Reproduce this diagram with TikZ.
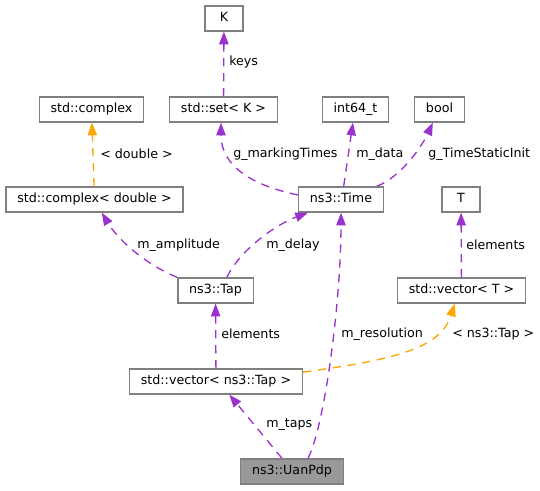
\documentclass[tikz,border=0pt]{standalone}
\usepackage{fontspec}
\setmainfont{DejaVu Sans}
\usetikzlibrary{arrows.meta}
\definecolor{morado}{HTML}{9A32CD}
\definecolor{naranja}{HTML}{FFA500}
\definecolor{gris}{HTML}{808080}
\definecolor{grisfondo}{HTML}{999999}
\begin{document}
\begin{tikzpicture}[   % opciones por defecto
      x=0.75pt,          % un pixel de la figura original
      y=-0.75pt,         % eje y hacia abajo, como en la imagen
      font=\fontsize{9.5pt}{11pt}\selectfont
    ]
    \tikzstyle{clase}=[draw=gris, line width=1pt, fill=white,
      minimum width=28.5pt, minimum height=18.75pt,
      inner xsep=8.5pt, inner ysep=0pt, text height=7pt, text depth=2pt];
    \tikzstyle{miembro}=[draw=morado, line width=1pt,
      dash pattern=on 6.2pt off 5pt,
      -{Triangle[length=9.5pt,width=7pt]}];
    \tikzstyle{plantilla}=[miembro, draw=naranja];
    \tikzstyle{etiqueta}=[anchor=west, inner sep=0pt];
    %
    \useasboundingbox (0,0) rectangle (540,491);
    %
    % clases de arriba
    \node [clase] (K)     at (224,18.5)   {K};
    \node [clase] (cplx)  at (91.5,109.5) {std::complex};
    \node [clase] (set)   at (223.5,109.5){std::set< K >};
    \node [clase] (int)   at (355.5,109.5){int64\_t};
    \node [clase] (bool)  at (439.5,109.5){bool};
    %
    % clases del medio
    \node [clase] (cplxd) at (94.5,199.5) {std::complex< double >};
    \node [clase] (time)  at (341,199.5)  {ns3::Time};
    \node [clase] (T)     at (461,199.5)  {T};
    \node [clase] (tap)   at (215.5,290.5){ns3::Tap};
    \node [clase] (vecT)  at (461.5,290.5){std::vector< T >};
    \node [clase] (vecTap) at (216,381.5) {std::vector< ns3::Tap >};
    %
    % clase principal
    \node [clase, fill=grisfondo] (uan) at (292,471.5) {ns3::UanPdp};
    %
    % conexiones rectas
    \draw[miembro] (set) -- (K);
    \draw[plantilla] (cplxd) -- (cplx);
    \draw[miembro] (vecT) -- (T);
    \draw[miembro] (vecTap) -- (tap);
    \draw[miembro] ([xshift=2pt]time.north) -- ([xshift=-1.9pt]int.south);
    \draw[miembro] ([xshift=-7.5pt]uan.north) -- ([xshift=10pt]vecTap.south);
    %
    % conexiones curvas
    \draw[miembro] ([yshift=3.4pt]time.west)
      .. controls (250,185) and (221,165) .. ([xshift=-1.9pt]set.south);
    \draw[miembro] ([xshift=-5.5pt]time.north east)
      .. controls (405,175) and (425,140) .. ([xshift=-5pt]bool.south);
    \draw[miembro] (tap.north west)
      .. controls (140,262) and (115,235) .. ([xshift=5.5pt]cplxd.south);
    \draw[miembro] ([xshift=8.5pt]tap.north)
      .. controls (240,250) and (275,225) .. ([xshift=7.5pt]time.south west);
    \draw[miembro] ([xshift=12pt]uan.north)
      .. controls (325,425) and (341,300) .. (time.south);
    \draw[plantilla] ([yshift=7pt]vecTap.east)
      .. controls (390,360) and (440,350) .. ([xshift=-5pt]vecT.south);
    %
    % etiquetas de las conexiones
    \node [etiqueta] (lkeys)   at (229,62)  {keys};
    \node [etiqueta] (ldouble) at (100,154) {< double >};
    \node [etiqueta] (lmark)   at (233,154) {g\_markingTimes};
    \node [etiqueta] (ldata)   at (356,154) {m\_data};
    \node [etiqueta] (lstatic) at (428,154) {g\_TimeStaticInit};
    \node [etiqueta] (lampl)   at (137,245) {m\_amplitude};
    \node [etiqueta] (ldelay)  at (266,245) {m\_delay};
    \node [etiqueta] (lelemT)  at (466,245) {elements};
    \node [etiqueta] (lelemTap) at (221,334) {elements};
    \node [etiqueta] (lres)    at (341,334) {m\_resolution};
    \node [etiqueta] (ltap)    at (452,334) {< ns3::Tap >};
    \node [etiqueta] (ltaps)   at (266,425) {m\_taps};
  \end{tikzpicture}
\end{document}
